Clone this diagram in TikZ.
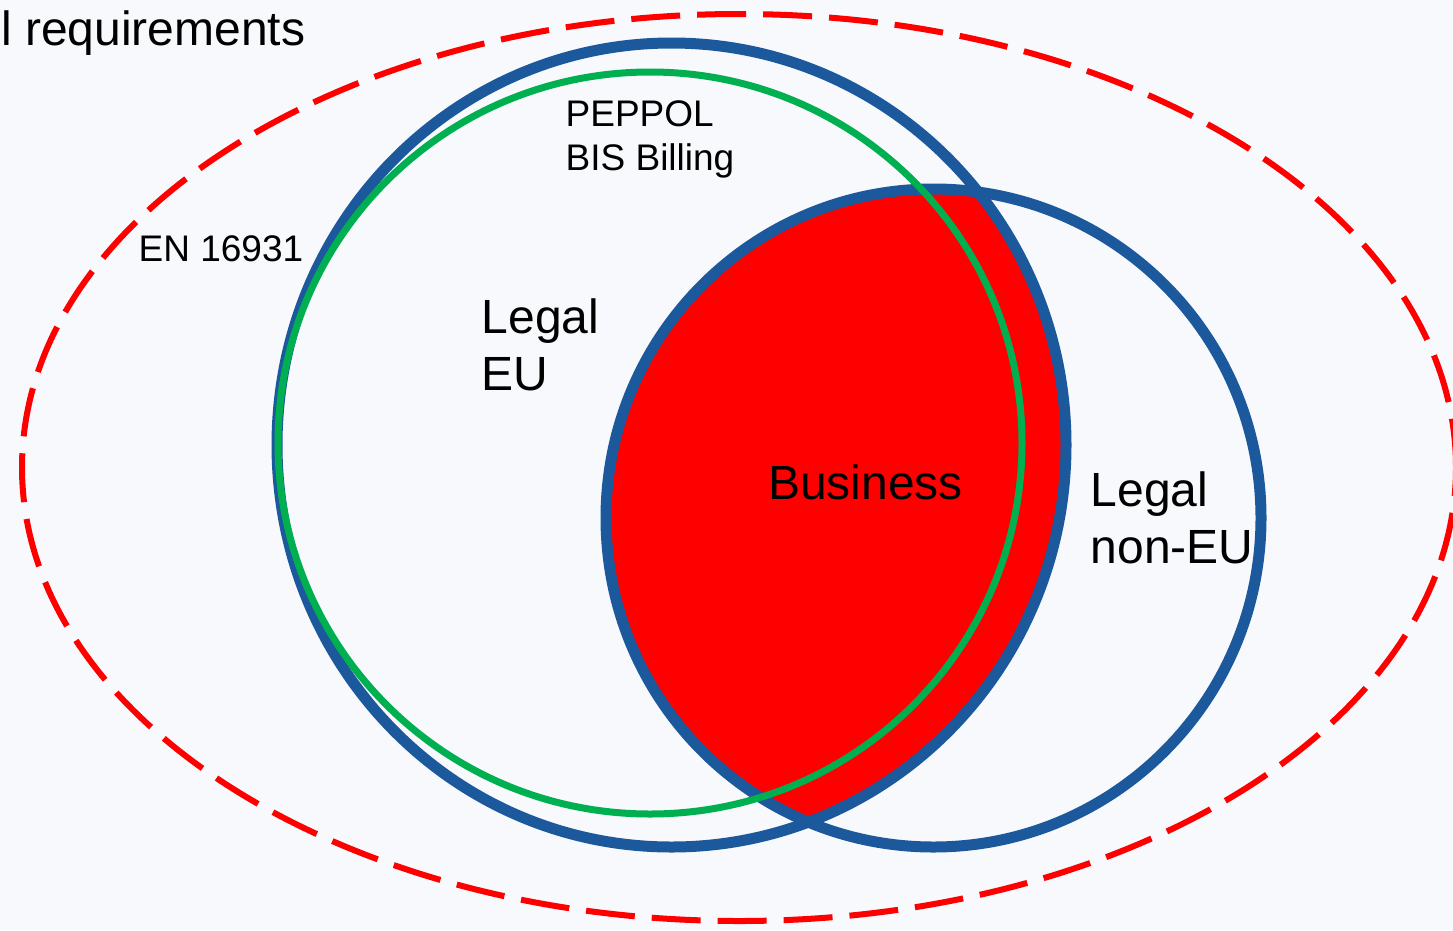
\documentclass[tikz,border=0pt]{standalone}
\usepackage{fontspec}
\setmainfont{Liberation Sans}
\definecolor{bgc}{RGB}{247,249,252}
\definecolor{vennblue}{RGB}{28,88,156}
\definecolor{venngreen}{RGB}{0,176,80}
\definecolor{vennred}{RGB}{255,0,0}
\tikzset{
  bluering/.style={draw=vennblue, line width=11pt},
  greenring/.style={draw=venngreen, line width=7pt},
  outerring/.style={draw=vennred, line width=6pt, dash pattern=on 49pt off 17pt},
  bigtext/.style={font=\fontsize{48}{57}\selectfont, inner sep=0pt, anchor=base west, align=left},
  smalltext/.style={font=\fontsize{37}{44}\selectfont, inner sep=0pt, anchor=base west, align=left}
}
\begin{document}
\begin{tikzpicture}[x=1pt,y=-1pt]
\useasboundingbox (0,0) rectangle (1453,930);
\fill[bgc] (0,0) rectangle (1453,930);
% outer dashed ellipse
\draw[outerring] (739,467.5) ellipse [x radius=717pt, y radius=453.5pt];
% red intersection
\begin{scope}
  \clip (671.5,445) ellipse [x radius=394.5pt, y radius=402pt];
  \fill[vennred] (933.5,518) ellipse [x radius=327.5pt, y radius=329pt];
\end{scope}
% blue ellipses
\draw[bluering] (671.5,445) ellipse [x radius=394.5pt, y radius=402pt];
\draw[bluering] (933.5,518) ellipse [x radius=327.5pt, y radius=329pt];
% green circle
\draw[greenring] (650,443) ellipse [x radius=372pt, y radius=371pt];
% texts (base anchor of a two-line node is the baseline of its last line)
\node[bigtext] (req) at (1,45.5) {l requirements};
\node[smalltext] (en) at (138.5,261.5) {EN 16931};
\node[smalltext] (peppol) at (565.5,170) {PEPPOL\\BIS Billing};
\node[bigtext] (legaleu) at (481.5,390.5) {Legal\\EU};
\node[bigtext] (business) at (768,499.5) {Business};
\node[bigtext] (legalnoneu) at (1090.5,563) {Legal\\non-EU};
\end{tikzpicture}
\end{document}
